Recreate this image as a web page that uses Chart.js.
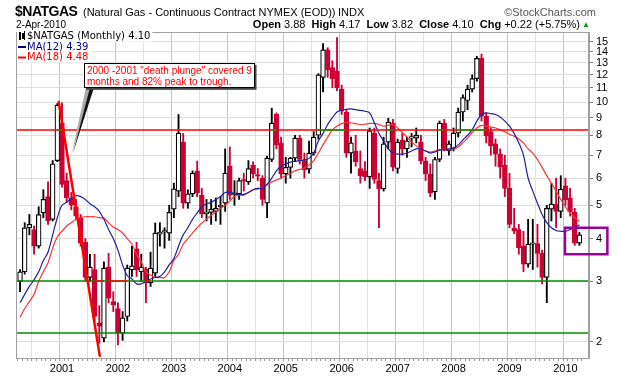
<!DOCTYPE html>
<html>
<head>
<meta charset="utf-8">
<script src="https://cdn.jsdelivr.net/npm/chart.js@4.4.1/dist/chart.umd.min.js"></script>
<style>
  body { margin: 0; background: #fff; }
  #wrap { position: relative; width: 620px; height: 376px; font-family: "Liberation Sans", Arial, sans-serif; }
  canvas { position: absolute; left: 0; top: 0; }
  .t { position: absolute; white-space: nowrap; color: #000; line-height: 1.15; }
</style>
</head>
<body>
<div id="wrap">
  <canvas id="chart" width="620" height="376"></canvas>
  <div class="t" style="left:15px;top:3px;font-size:14px;font-weight:bold;letter-spacing:-0.5px;">$NATGAS</div>
  <div class="t" style="left:83px;top:6px;font-size:11px;">(Natural Gas - Continuous Contract NYMEX (EOD))</div>
  <div class="t" style="left:338px;top:6px;font-size:11px;">INDX</div>
  <div class="t" style="right:24px;top:6px;font-size:11px;color:#555;">&copy;StockCharts.com</div>
  <div class="t" style="left:16px;top:19px;font-size:10px;">2-Apr-2010</div>
  <div class="t" style="right:40px;top:18px;font-size:11px;"><b>Open</b> 3.88 &nbsp;<b>High</b> 4.17 &nbsp;<b>Low</b> 3.82 &nbsp;<b>Close</b> 4.10 &nbsp;<b>Chg</b> +0.22 (+5.75%)</div>
  <div class="t" style="left:582px;top:20px;font-size:8px;color:#119911;">&#9650;</div>
</div>
<script>
// monthly candles, first one is April 2000
const startYear = 2000, startMonth = 4;

const opens = [3.0, 3.2, 4.3, 4.25, 3.8, 4.75, 5.3, 4.55, 6.75, 8.7,
  5.9, 5.25, 4.95, 4.6, 3.9, 3.08, 3.25, 2.27, 2.05, 3.31,
  2.62, 2.5, 2.12, 2.37, 3.24, 3.73, 3.2, 3.26, 2.97, 3.17,
  4.12, 4.18, 4.15, 4.87, 5.5, 7.64, 5.07, 5.4, 6.3, 5.35,
  4.72, 4.77, 4.8, 4.95, 5.07, 6.5, 5.38, 5.4, 5.92, 5.85,
  6.55, 6.12, 6.0, 5.07, 6.8, 9.2, 7.6, 6.17, 6.45, 6.86,
  7.85, 6.75, 6.37, 7.1, 8.0, 11.8, 14.2, 12.6, 12.3, 10.9,
  9.35, 7.1, 7.2, 6.4, 6.3, 6.05, 8.1, 5.9, 5.58, 7.64,
  8.68, 6.4, 7.75, 7.3, 7.85, 7.85, 7.64, 6.73, 6.17, 5.47,
  6.8, 8.68, 7.2, 7.3, 8.12, 9.35, 10.1, 10.9, 11.7, 13.4,
  9.1, 8.2, 7.55, 7.05, 6.55, 5.6, 4.29, 4.25, 3.8, 3.37,
  3.85, 3.87, 3.62, 3.08, 4.87, 5.04, 4.8, 5.7, 5.25, 4.77,
  3.88];
const highs = [3.25, 4.45, 4.7, 4.35, 4.95, 5.55, 5.85, 6.75, 9.9, 9.95,
  6.2, 5.45, 5.2, 4.7, 4.0, 3.6, 3.6, 2.55, 3.42, 3.62,
  2.8, 2.6, 2.45, 3.35, 3.8, 3.9, 3.6, 3.3, 3.65, 4.44,
  4.45, 4.3, 5.0, 5.8, 9.2, 8.1, 5.55, 6.3, 6.73, 5.6,
  5.2, 5.2, 5.25, 5.3, 7.3, 7.4, 5.9, 6.0, 6.2, 6.75,
  6.7, 6.4, 6.1, 6.95, 9.6, 9.3, 7.9, 6.9, 6.9, 8.0,
  8.0, 7.1, 7.7, 8.2, 12.1, 14.8, 14.4, 13.2, 15.4, 11.2,
  9.5, 7.9, 8.0, 7.2, 6.7, 8.4, 8.4, 6.2, 7.9, 8.97,
  8.9, 7.8, 8.1, 7.9, 8.1, 8.4, 8.0, 6.9, 6.6, 6.9,
  8.8, 8.9, 7.7, 8.4, 9.6, 10.5, 11.2, 12.0, 13.6, 13.8,
  9.3, 8.4, 7.8, 7.3, 7.0, 6.2, 4.9, 4.4, 4.2, 4.55,
  4.55, 4.4, 3.7, 5.0, 5.8, 6.0, 6.1, 6.0, 5.6, 4.9,
  4.17];
const lows = [2.8, 3.15, 4.1, 3.6, 3.75, 4.6, 4.4, 4.5, 6.7, 5.65,
  5.1, 4.85, 4.55, 3.8, 3.0, 3.0, 2.3, 1.98, 2.0, 2.6,
  2.45, 1.96, 2.02, 2.3, 3.1, 3.1, 3.0, 2.6, 2.9, 3.1,
  3.8, 3.75, 3.95, 4.6, 5.3, 4.9, 4.9, 5.3, 5.3, 4.6,
  4.5, 4.4, 4.5, 4.4, 4.8, 5.2, 5.0, 5.2, 5.5, 5.75,
  6.0, 5.9, 5.0, 4.6, 6.7, 7.3, 6.0, 5.8, 6.0, 6.7,
  6.6, 6.0, 6.2, 7.0, 7.8, 10.7, 11.8, 11.0, 10.8, 9.2,
  6.9, 6.2, 6.5, 5.8, 5.9, 5.6, 5.8, 4.3, 5.5, 7.3,
  6.3, 6.2, 7.0, 6.9, 7.4, 7.6, 6.6, 5.9, 5.3, 5.2,
  6.7, 7.2, 7.0, 7.2, 7.9, 8.8, 9.5, 10.7, 11.5, 8.8,
  7.6, 7.0, 6.5, 6.0, 5.3, 4.3, 4.13, 3.6, 3.2, 3.3,
  3.25, 3.3, 2.95, 2.6, 4.5, 4.3, 4.6, 5.0, 4.65, 3.82,
  3.82];
const closes = [3.2, 4.3, 4.4, 3.8, 4.7, 5.2, 4.5, 6.6, 9.8, 5.75,
  5.25, 5.0, 4.65, 3.88, 3.08, 3.3, 2.37, 2.22, 3.28, 2.68,
  2.56, 2.12, 2.35, 3.28, 3.33, 3.24, 3.3, 2.97, 3.28, 4.15,
  4.18, 4.2, 4.77, 5.58, 8.12, 5.07, 5.4, 6.2, 5.43, 4.72,
  4.78, 4.87, 4.9, 4.97, 6.2, 5.35, 5.42, 5.9, 5.88, 6.4,
  6.17, 6.08, 5.2, 6.86, 8.68, 7.5, 6.17, 6.45, 6.86, 7.85,
  6.8, 6.34, 7.1, 7.9, 12.0, 14.2, 12.4, 11.7, 11.0, 9.4,
  7.1, 7.6, 6.7, 6.1, 6.05, 8.24, 5.95, 5.58, 7.55, 8.74,
  6.46, 7.64, 7.3, 7.7, 7.9, 8.0, 6.73, 6.17, 5.43, 6.8,
  8.68, 7.3, 7.55, 8.12, 9.35, 10.3, 10.9, 11.7, 13.4, 9.1,
  7.96, 7.45, 7.05, 6.46, 5.6, 4.4, 4.2, 3.76, 3.37, 3.85,
  3.88, 3.62, 3.08, 4.9, 5.04, 4.8, 5.57, 5.18, 4.78, 3.88,
  4.10];
const ma12 = [2.6, 2.75, 2.9, 3.03, 3.2, 3.45, 3.65, 4.1, 4.6, 5.0,
  5.1, 5.25, 5.33, 5.3, 5.2, 5.05, 4.95, 4.8, 4.55, 4.25,
  4.0, 3.7, 3.35, 3.12, 3.05, 2.95, 2.95, 3.0, 3.05, 3.08,
  3.1, 3.2, 3.35, 3.5, 3.8, 4.1, 4.3, 4.55, 4.75, 4.95,
  5.05, 5.1, 5.2, 5.3, 5.45, 5.45, 5.4, 5.38, 5.38, 5.45,
  5.55, 5.6, 5.6, 5.75, 6.0, 6.3, 6.5, 6.6, 6.68, 6.72,
  6.75, 6.78, 6.85, 7.1, 7.7, 8.1, 8.6, 9.0, 9.35, 9.48,
  9.52, 9.55, 9.5, 9.45, 9.4, 9.3, 8.7, 8.1, 7.7, 7.3,
  7.1, 7.05, 7.05, 7.1, 7.2, 7.3, 7.3, 7.2, 7.1, 7.15,
  7.25, 7.25, 7.3, 7.35, 7.5, 7.75, 8.0, 8.3, 8.8, 9.2,
  9.3, 9.25, 9.2, 9.05, 8.8, 8.5, 8.1, 7.6, 7.0, 6.0,
  5.5, 5.07, 4.7, 4.45, 4.3, 4.22, 4.2, 4.2, 4.25, 4.3,
  4.39];
const ma18 = [2.36, 2.5, 2.62, 2.75, 3.0, 3.2, 3.4, 3.75, 4.05, 4.2,
  4.35, 4.45, 4.55, 4.6, 4.63, 4.63, 4.63, 4.6, 4.58, 4.45,
  4.32, 4.25, 4.15, 4.0, 3.85, 3.6, 3.42, 3.2, 3.13, 3.08,
  3.08, 3.08, 3.2, 3.45, 3.6, 3.85, 4.0, 4.15, 4.3, 4.44,
  4.55, 4.68, 4.78, 4.9, 5.0, 5.15, 5.3, 5.35, 5.35, 5.45,
  5.55, 5.58, 5.62, 5.75, 5.85, 5.92, 6.0, 6.1, 6.2, 6.3,
  6.36, 6.42, 6.55, 6.75, 7.1, 7.5, 7.9, 8.3, 8.5, 8.65,
  8.72, 8.7, 8.65, 8.6, 8.62, 8.66, 8.66, 8.6, 8.5, 8.55,
  8.6, 8.4, 8.15, 7.9, 7.65, 7.45, 7.3, 7.2, 7.15, 7.2,
  7.25, 7.3, 7.25, 7.3, 7.4, 7.6, 7.85, 8.15, 8.4, 8.55,
  8.5, 8.45, 8.4, 8.3, 8.2, 8.05, 7.95, 7.8, 7.6, 7.3,
  7.1, 6.8, 6.45, 6.1, 5.8, 5.5, 5.2, 4.95, 4.75, 4.6,
  4.48];
const yTicks = [2, 3, 4, 5, 6, 7, 8, 9, 10, 11, 12, 13, 14, 15];
const levelLines = [
  { value: 8.3, color: '#ff0000', flip: '#00a000', above: true },
  { value: 3.0, color: '#008f00', flip: '#ff0000', above: false },
  { value: 2.12, color: '#008f00', flip: '#ff0000', above: false }
];

const months = opens.map((_, i) => {
  const m = startMonth - 1 + i;
  return { year: startYear + Math.floor(m / 12), month: (m % 12) + 1 };
});

const RED = '#cc0033';
const isUp = i => closes[i] >= opens[i];

const decor = {
  id: 'decor',
  beforeDraw(chart) {
    const c = chart.ctx;
    c.save();
    c.fillStyle = '#fff';
    c.fillRect(0, 0, chart.width, chart.height);
    c.restore();
  },
  afterDatasetsDraw(chart) {
    const c = chart.ctx, a = chart.chartArea;
    const xs = chart.scales.x, ys = chart.scales.y;
    c.save();
    c.beginPath();
    c.rect(a.left, a.top, a.right - a.left, a.bottom - a.top);
    c.clip();
    c.lineWidth = 1.5;
    levelLines.forEach(l => {
      const y = Math.round(ys.getPixelForValue(l.value));
      c.strokeStyle = l.color;
      c.beginPath(); c.moveTo(a.left, y); c.lineTo(a.right, y); c.stroke();
      c.strokeStyle = l.flip;
      closes.forEach((v, i) => {
        if (i === closes.length - 1) return;
        if (l.above ? v > l.value : v < l.value) {
          c.beginPath();
          c.moveTo(xs.getPixelForValue(i), y);
          c.lineTo(xs.getPixelForValue(i + 1), y);
          c.stroke();
        }
      });
    });
    c.restore();
  },
  afterDraw(chart) {
    const c = chart.ctx, a = chart.chartArea;
    const xs = chart.scales.x, ys = chart.scales.y;
    const px = v => xs.getPixelForValue(v), py = v => ys.getPixelForValue(v);
    c.save();

    // plot frame
    c.strokeStyle = '#a0a0a0';
    c.lineWidth = 1;
    c.strokeRect(a.left + 0.5, a.top + 0.5, a.right - a.left - 1, a.bottom - a.top);

    // legend in the top-left corner
    c.font = '10px "DejaVu Sans", Verdana, sans-serif';
    c.textBaseline = 'middle';
    const rows = [
      { text: '$NATGAS (Monthly) 4.10', color: '#000', y: 36 },
      { text: 'MA(12) 4.39', color: '#000080', y: 46.5 },
      { text: 'MA(18) 4.48', color: '#ff0000', y: 57 }
    ];
    rows.forEach((r, k) => {
      const w = c.measureText(r.text).width;
      c.fillStyle = '#fff';
      c.fillRect(a.left + 1, r.y - 5, w + 12, 10.5);
      c.fillStyle = r.color;
      c.fillText(r.text, a.left + 11, r.y + 0.5);
      if (k === 0) {
        c.fillStyle = '#000';
        c.fillRect(a.left + 3, r.y - 4, 2, 8);
        c.fillRect(a.left + 6, r.y - 3, 2, 6);
        c.fillRect(a.left + 8, r.y - 5, 1, 9);
      } else {
        c.fillRect(a.left + 2, r.y - 0.5, 8, 2);
      }
    });

    // red "plunge" stroke
    c.strokeStyle = '#ff0000';
    c.lineWidth = 2.5;
    c.lineCap = 'round';
    c.beginPath();
    c.moveTo(px(8.3), py(10.0));
    c.lineTo(px(17.1), py(1.82));
    c.stroke();

    // note box with its pointer
    const bx0 = px(13.7), bx1 = px(50.3), by0 = py(13.0), by1 = py(11.0);
    const tipX = px(11.3), tipY = py(7.05);
    c.fillStyle = '#aaa';
    c.beginPath();
    c.moveTo(bx0 + 2, by1); c.lineTo(bx0 + 8, by1); c.lineTo(tipX - 1, tipY); c.closePath();
    c.fill();
    c.fillStyle = '#111';
    c.beginPath();
    c.moveTo(bx0 + 6, by1); c.lineTo(bx0 + 10, by1); c.lineTo(tipX, tipY); c.closePath();
    c.fill();
    c.fillStyle = '#444';
    c.fillRect(bx0 + 2, by0 + 2, bx1 - bx0, by1 - by0);
    c.fillStyle = '#fff';
    c.fillRect(bx0, by0, bx1 - bx0, by1 - by0);
    c.strokeStyle = '#000';
    c.lineWidth = 1;
    c.strokeRect(Math.round(bx0) + 0.5, Math.round(by0) + 0.5, Math.round(bx1 - bx0) - 1, Math.round(by1 - by0) - 1);
    c.fillStyle = '#ff0000';
    c.font = '10px "Liberation Sans", Arial, sans-serif';
    c.textBaseline = 'alphabetic';
    c.fillText('2000 -2001 "death plunge" covered 9', bx0 + 3, by0 + 11);
    c.fillText('months and 82% peak to trough.', bx0 + 3, by0 + 22.5);

    // purple box round the last candle
    c.strokeStyle = '#990099';
    c.lineWidth = 2.5;
    c.strokeRect(px(116.9), py(4.3), px(126.0) - px(116.9), py(3.6) - py(4.3));
    c.restore();
  }
};

new Chart(document.getElementById('chart'), {
  type: 'bar',
  data: {
    datasets: [
      {
        label: 'range',
        data: lows.map((l, i) => ({ x: i, y: [l, highs[i]] })),
        backgroundColor: ctx => isUp(ctx.dataIndex) ? '#000' : RED,
        barThickness: 1.2,
        grouped: false,
        order: 3
      },
      {
        label: 'body',
        data: opens.map((o, i) => ({ x: i, y: [o, closes[i]] })),
        backgroundColor: ctx => isUp(ctx.dataIndex) ? '#fff' : RED,
        borderColor: ctx => isUp(ctx.dataIndex) ? '#000' : RED,
        borderWidth: 1.2,
        borderSkipped: false,
        barThickness: 4.8,
        minBarLength: 1.5,
        grouped: false,
        order: 2
      },
      {
        type: 'line',
        label: 'MA(12)',
        data: ma12.map((v, i) => ({ x: i, y: v })),
        borderColor: '#1f1f9e',
        borderWidth: 1.2,
        pointRadius: 0,
        tension: 0.35,
        order: 1
      },
      {
        type: 'line',
        label: 'MA(18)',
        data: ma18.map((v, i) => ({ x: i, y: v })),
        borderColor: '#ff3333',
        borderWidth: 1.2,
        pointRadius: 0,
        tension: 0.35,
        order: 1
      }
    ]
  },
  options: {
    responsive: false,
    devicePixelRatio: 1,
    animation: false,
    layout: { padding: { left: 16, top: 32, right: 0, bottom: 0 } },
    plugins: { legend: { display: false }, tooltip: { enabled: false } },
    scales: {
      x: {
        type: 'linear',
        min: -0.36,
        max: 121.55,
        afterBuildTicks: s => { s.ticks = months.map((_, i) => ({ value: i })); },
        afterFit: s => { s.height = 18; },
        ticks: {
          autoSkip: false,
          maxRotation: 0,
          padding: 1,
          color: '#000',
          font: { family: '"Liberation Sans", Arial, sans-serif', size: 11 },
          callback: v => {
            const m = months[v];
            return m && m.month === 1 ? String(m.year) : '';
          }
        },
        grid: {
          color: ctx => {
            const m = months[ctx.tick && ctx.tick.value];
            if (!m) return 'rgba(0,0,0,0)';
            if (m.month === 1) return '#c4c4c4';
            if (m.month === 7) return '#e2e2e2';
            return 'rgba(0,0,0,0)';
          },
          tickColor: '#999',
          tickLength: 3
        },
        border: { display: true, color: '#a0a0a0' }
      },
      y: {
        type: 'logarithmic',
        position: 'right',
        min: 1.794,
        max: 16.0,
        afterBuildTicks: s => { s.ticks = yTicks.map(v => ({ value: v })); },
        afterFit: s => { s.width = 31; },
        ticks: {
          autoSkip: false,
          padding: 3,
          color: '#000',
          font: { family: '"Liberation Sans", Arial, sans-serif', size: 11 },
          callback: v => String(v)
        },
        grid: { color: '#dedede', tickColor: '#777', tickLength: 4 },
        border: { display: true, color: '#a0a0a0' }
      }
    }
  },
  plugins: [decor]
});
</script>
</body>
</html>
